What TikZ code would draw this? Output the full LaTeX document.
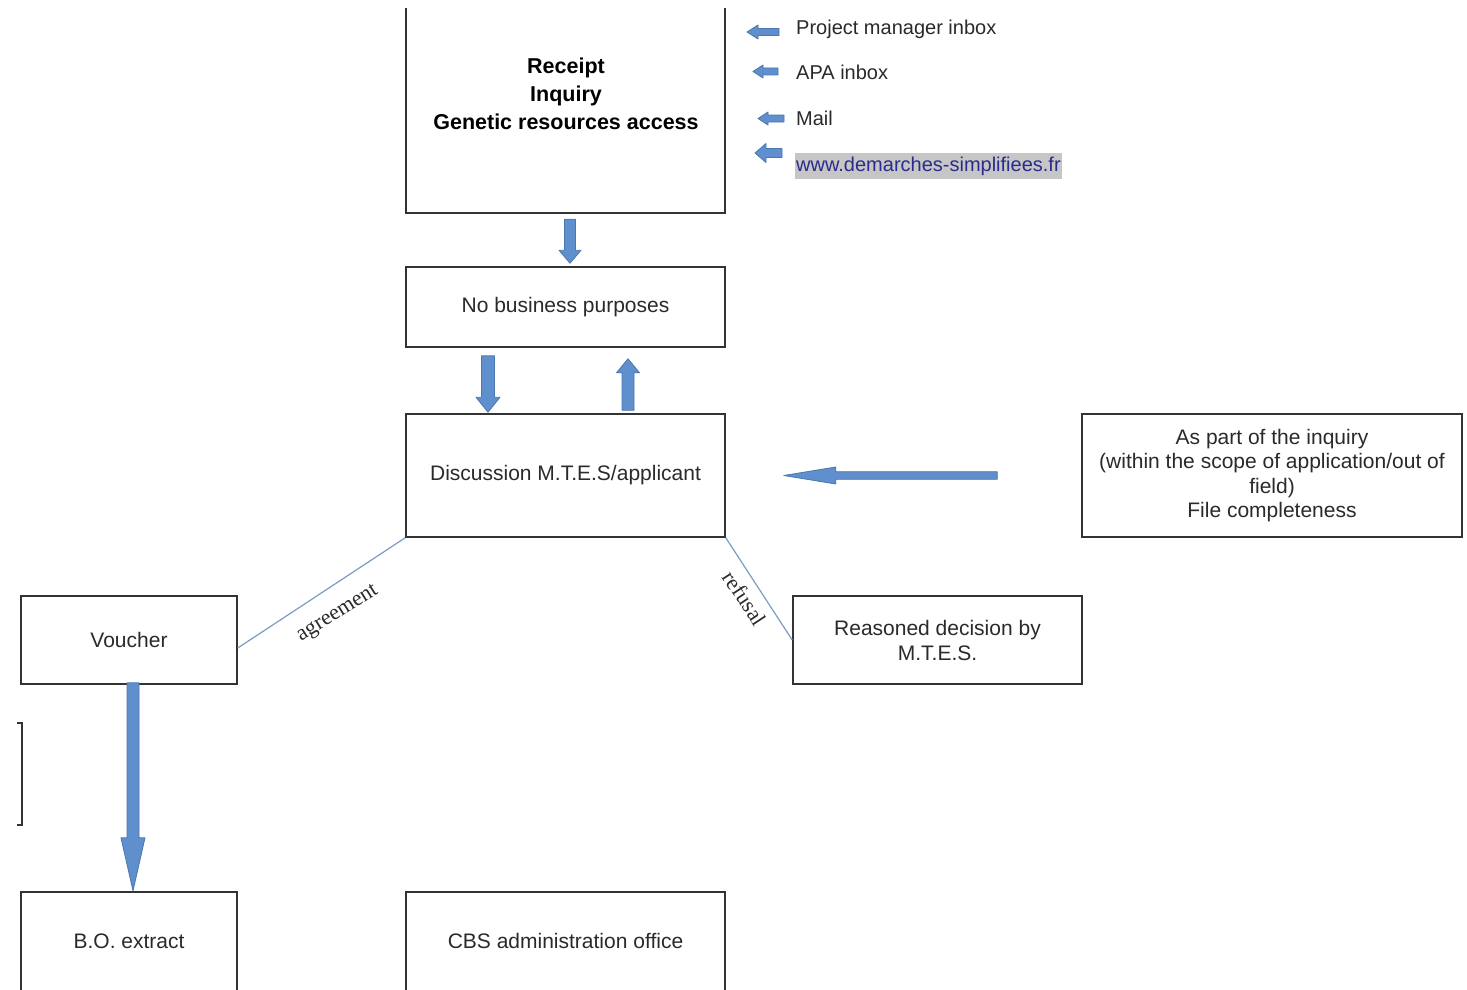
\documentclass[tikz,border=0pt]{standalone}
\usepackage{fontspec}
\setmainfont{Liberation Sans}
\newfontfamily\labelserif{Liberation Serif}
\usetikzlibrary{calc}
\definecolor{arrowfill}{HTML}{5F8FCC}
\definecolor{arrowline}{HTML}{4A77B0}
\definecolor{linkline}{HTML}{7C9CC4}
\definecolor{boxline}{HTML}{333333}
\definecolor{txt}{HTML}{2A2A2A}
\definecolor{urlblue}{HTML}{2B2B8C}
\definecolor{hlgray}{HTML}{C6C6C6}
% start, end, half shaft, half head, head length
\newcommand\blockarrow[5]{%
  \coordinate (ba-h) at ($(#2)!#5!(#1)$);
  \filldraw[arrowstyle] ($(#1)!#3!-90:(#2)$) -- ($(ba-h)!#3!90:(#1)$) -- ($(ba-h)!#4!90:(#1)$) -- (#2) -- ($(ba-h)!#4!-90:(#1)$) -- ($(ba-h)!#3!-90:(#1)$) -- ($(#1)!#3!90:(#2)$) -- cycle;}
\begin{document}
\begin{tikzpicture}[x=1pt,y=-1pt,
  boxtext/.style={text=txt, font=\fontsize{21}{25}\selectfont, align=center, inner sep=0pt},
  box/.style={boxtext, draw=boxline, line width=1.5pt},
  openbox/.style={boxtext},
  boxedge/.style={draw=boxline, line width=1.5pt},
  arrowstyle/.style={fill=arrowfill, draw=arrowline, line width=0.8pt, line join=round},
  link/.style={draw=linkline, line width=1.2pt},
  sidetext/.style={text=txt, font=\fontsize{20}{24}\selectfont, anchor=base west, inner sep=0pt},
  edgelabel/.style={text=txt, font=\labelserif\fontsize{22}{26}\selectfont, inner sep=0pt}]
\useasboundingbox[fill=white] (0,0) rectangle (1467,990);

% boxes
\node[openbox, minimum width=319pt, minimum height=205pt] (receipt) at (565.5,110.5) {};
\node[boxtext, font=\bfseries\fontsize{21.5}{28}\selectfont, text=black] (receipttxt) at (566,94) {Receipt\\Inquiry\\Genetic resources access};
\draw[boxedge] (receipt.north west) -- (receipt.south west) -- (receipt.south east) -- (receipt.north east);

\node[box, minimum width=319pt, minimum height=80pt] (nbp) at (565.5,307) {No business purposes};
\node[box, minimum width=319pt, minimum height=123pt] (disc) at (565.5,475.5) {Discussion M.T.E.S/applicant};
\node[box, minimum width=380pt, minimum height=123pt, font=\fontsize{21}{24.5}\selectfont] (scope) at (1272,475.5) {As part of the inquiry\\(within the scope of application/out of\\field)\\File completeness};
\node[box, minimum width=216pt, minimum height=88pt] (voucher) at (129,640) {Voucher};
\node[box, minimum width=289pt, minimum height=88pt] (reasoned) at (937.5,640) {Reasoned decision by\\M.T.E.S.};
\node[openbox, minimum width=216pt, minimum height=98pt] (bo) at (129,941) {B.O. extract};
\draw[boxedge] (bo.south west) -- (bo.north west) -- (bo.north east) -- (bo.south east);
\node[openbox, minimum width=319pt, minimum height=98pt] (cbs) at (565.5,941) {CBS administration office};
\draw[boxedge] (cbs.south west) -- (cbs.north west) -- (cbs.north east) -- (cbs.south east);

% side texts
\node[sidetext] (pmi) at (796,34.5) {Project manager inbox};
\node[sidetext] (apa) at (796,80) {APA inbox};
\node[sidetext] (mail) at (796,125.5) {Mail};
\node[sidetext, fill=hlgray, text=urlblue, inner xsep=1pt, inner ysep=4pt] (www) at (795,171) {www.demarches-simplifiees.fr};

% small arrows
\coordinate (a1s) at (779,32); \coordinate (a1e) at (747,32);
\coordinate (a2s) at (778,71.5); \coordinate (a2e) at (753,71.5);
\coordinate (a3s) at (784,118.5); \coordinate (a3e) at (758,118.5);
\coordinate (a4s) at (782,153); \coordinate (a4e) at (755,153);
\blockarrow{a1s}{a1e}{3.5pt}{7pt}{11pt}
\blockarrow{a2s}{a2e}{3.5pt}{6.5pt}{10pt}
\blockarrow{a3s}{a3e}{3.5pt}{6.5pt}{10pt}
\blockarrow{a4s}{a4e}{4.5pt}{9.5pt}{11pt}

% block arrows between boxes
\coordinate (r2ns) at ([xshift=4.5pt,yshift=-6pt]receipt.south);
\coordinate (r2ne) at ([xshift=4.5pt,yshift=3pt]nbp.north);
\blockarrow{r2ns}{r2ne}{5.5pt}{11pt}{13pt}

\coordinate (n2ds) at ([xshift=-77.5pt,yshift=-8pt]nbp.south);
\coordinate (n2de) at ([xshift=-77.5pt,yshift=1pt]disc.north);
\blockarrow{n2ds}{n2de}{6.5pt}{12pt}{15pt}

\coordinate (d2ns) at ([xshift=62.5pt,yshift=3pt]disc.north);
\coordinate (d2ne) at ([xshift=62.5pt,yshift=-11pt]nbp.south);
\blockarrow{d2ns}{d2ne}{6pt}{11.5pt}{14pt}

\coordinate (s2ds) at ([xshift=-84pt]scope.west);
\coordinate (s2de) at ([xshift=58pt]disc.east);
\blockarrow{s2ds}{s2de}{3.8pt}{8.5pt}{52pt}

\coordinate (v2bs) at ([xshift=4pt,yshift=2pt]voucher.south);
\coordinate (v2be) at ([xshift=4pt,yshift=1pt]bo.north);
\blockarrow{v2bs}{v2be}{6pt}{12pt}{53pt}

% decision links
\coordinate (agr-end) at ([yshift=-8pt]voucher.east);
\draw[link] (disc.south west) -- (agr-end);
\node[edgelabel, rotate=32] (agrlabel) at ($($(disc.south west)!0.49!(agr-end)$)!27pt!90:(agr-end)$) {agreement};
\draw[link] (disc.south east) -- (reasoned.west);
\node[edgelabel, rotate=-56.6] (reflabel) at ($($(disc.south east)!0.5!(reasoned.west)$)!17pt!-90:(reasoned.west)$) {refusal};

% bracket at left
\draw[boxedge] (17,723) -- (22,723) -- (22,825) -- (17,825);
\end{tikzpicture}
\end{document}
